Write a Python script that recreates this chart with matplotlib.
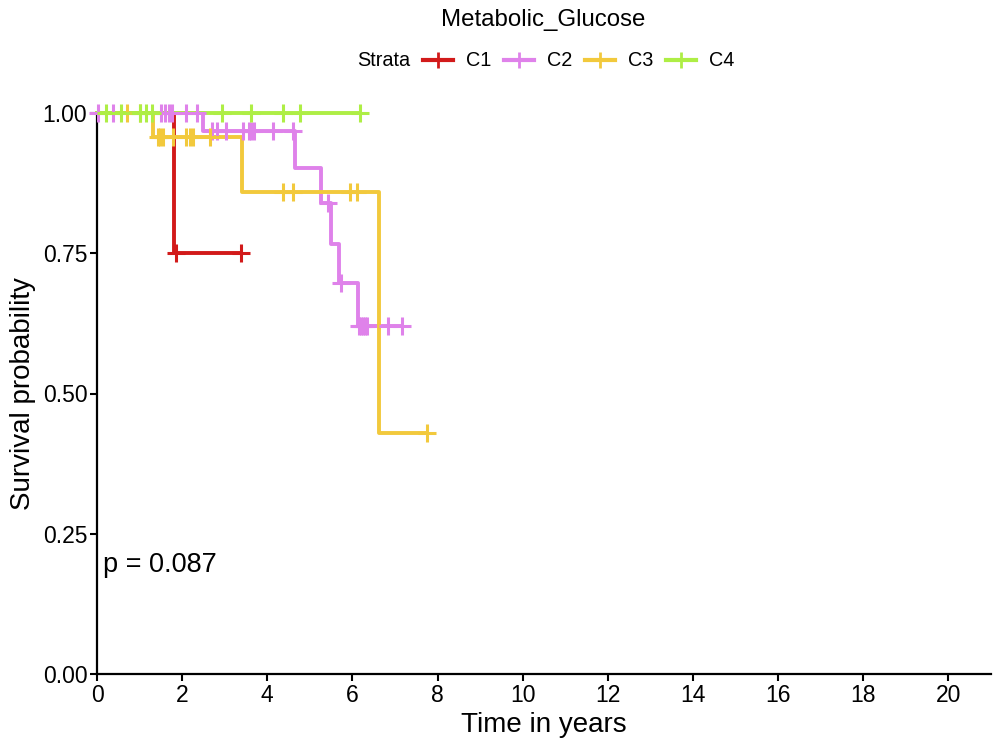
import numpy as np
import matplotlib.pyplot as plt
from matplotlib.lines import Line2D

plt.rcParams['font.family'] = ['Liberation Sans', 'DejaVu Sans']

# Kaplan-Meier curves (step times, survival after each step)
strata = ["C1", "C2", "C3", "C4"]
colors = ["#D21A1A", "#DF82EA", "#F2C93C", "#AEEE45"]

c1_times = [0.0, 1.82]
c1_surv = [1.0, 0.75]
c1_censor = [1.85, 3.38]

c2_times = [0.0, 2.49, 4.65, 5.26, 5.50, 5.69, 6.13]
c2_surv = [1.0, 0.968, 0.902, 0.840, 0.766, 0.697, 0.620]
c2_censor = [0.03, 0.38, 1.50, 1.60, 1.70, 1.77, 2.10, 2.35, 2.70, 2.82, 3.03,
             3.43, 3.57, 3.62, 3.68, 4.14, 4.60, 5.43, 5.73, 6.15, 6.20, 6.25,
             6.30, 6.35, 6.84, 7.17]

c3_times = [0.0, 1.32, 3.41, 6.63]
c3_surv = [1.0, 0.957, 0.859, 0.430]
c3_censor = [0.70, 1.00, 1.43, 1.48, 1.55, 1.79, 2.10, 2.18, 2.25, 2.65, 4.37,
             4.60, 5.95, 6.10, 7.76]

c4_times = [0.0]
c4_surv = [1.0]
c4_censor = [0.20, 0.56, 1.00, 1.16, 1.30, 2.94, 3.62, 4.37, 4.77, 6.18]

curves = [(c1_times, c1_surv, c1_censor), (c2_times, c2_surv, c2_censor),
          (c3_times, c3_surv, c3_censor), (c4_times, c4_surv, c4_censor)]

x_ticks = np.arange(0, 21, 2)
y_ticks = [0.0, 0.25, 0.5, 0.75, 1.0]
p_text = "p = 0.087"

fig = plt.figure(figsize=(9.97, 7.42), dpi=100)
ax = fig.add_axes([97 / 997, 1 - 674 / 742, (991 - 97) / 997, (674 - 113) / 742])


def surv_at(times, surv, t):
    idx = np.searchsorted(times, t, side='right') - 1
    return np.asarray(surv)[idx]


for (times, surv, cens), col in zip(curves, colors):
    end = max(cens)
    xs = list(times) + [end]
    ys = list(surv) + [surv[-1]]
    ax.step(xs, ys, where='post', color=col, lw=2.8, clip_on=False, zorder=3)

for (times, surv, cens), col in zip(curves, colors):
    ax.plot(cens, surv_at(times, surv, cens), ls='none', marker='+', ms=13,
            mew=2.2, color=col, clip_on=False, zorder=4)

ax.set_xlim(0, 21)
ax.set_ylim(0, 1)
ax.set_xticks(x_ticks)
ax.set_yticks(y_ticks)
ax.set_yticklabels([f"{v:.2f}" for v in y_ticks])
for s in ["top", "right"]:
    ax.spines[s].set_visible(False)
for s in ["left", "bottom"]:
    ax.spines[s].set_linewidth(1.6)
ax.tick_params(labelsize=16.5, width=1.5, length=5, colors='black', pad=2)
ax.set_xlabel("Time in years", fontsize=20, labelpad=4)
ax.set_ylabel("Survival probability", fontsize=20, labelpad=5)

ax.text(0.14, 0.195, p_text, fontsize=19.5, ha='left', va='center')

fig.text(543 / 997, 1 - 20 / 742, "Metabolic_Glucose", fontsize=17.3,
         ha='center', va='center')
fig.text(357 / 997, 1 - 61 / 742, "Strata", fontsize=14.3, ha='left', va='center')
handles = [Line2D([], [], color=c, lw=3, marker='+', ms=12, mew=2) for c in colors]
fig.legend(handles, strata, loc='center left', bbox_to_anchor=(423 / 997, 1 - 61 / 742),
           ncol=4, frameon=False, fontsize=14.3, handlelength=1.5,
           handletextpad=0.65, columnspacing=0.65, borderaxespad=0, borderpad=0)

fig.savefig("out.png", dpi=100)
